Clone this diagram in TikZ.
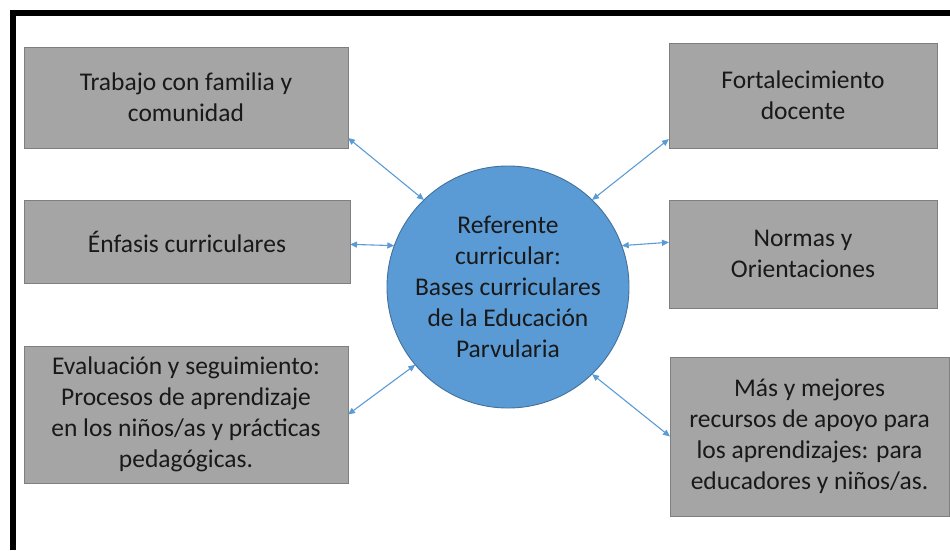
\documentclass[tikz,border=0pt]{standalone}
\usepackage{fontspec}
\setmainfont{Carlito}
\usetikzlibrary{arrows.meta}
\definecolor{azul}{HTML}{5B9BD5}
\definecolor{azulborde}{HTML}{41719C}
\definecolor{gris}{HTML}{A5A5A5}
\definecolor{grisborde}{HTML}{7F7F7F}
\begin{document}
\begin{tikzpicture}[x=1pt,y=-1pt,
    caja/.style={draw=grisborde,fill=gris,line width=0.8pt,align=center,
      font=\fontsize{25.5}{31}\selectfont,text=black!90,inner sep=0pt,outer sep=0pt},
    flecha/.style={azul,line width=1.1pt,{Triangle[length=7pt,width=6pt]}-{Triangle[length=7pt,width=6pt]}}]
  \useasboundingbox (0,0) rectangle (950,550);
  % marco
  \draw[line width=6pt] (13,550) -- (13,13) -- (950,13);
  % centro
  \node[circle,draw=azulborde,fill=azul,line width=0.9pt,minimum size=242pt,
    align=center,font=\fontsize{25.5}{31}\selectfont,text=black!90,inner sep=0pt,outer sep=0pt]
    (ref) at (508,287) {Referente\\curricular:\\Bases curriculares\\de la Educación\\Parvularia};
  % cajas
  \node[caja,minimum width=324pt,minimum height=101pt] (fam) at (186,97.5) {Trabajo con familia y\\comunidad};
  \node[caja,minimum width=268pt,minimum height=105pt] (doc) at (803,95.5) {Fortalecimiento\\docente};
  \node[caja,minimum width=326pt,minimum height=83pt] (enf) at (187,241.5) {Énfasis curriculares};
  \node[caja,minimum width=268pt,minimum height=108pt] (nor) at (803,254) {Normas y\\Orientaciones};
  \node[caja,minimum width=324pt,minimum height=137pt] (eva) at (186,414.5)
    {Evaluación y seguimiento:\\Procesos de aprendizaje\\en los niños/as y prácticas\\pedagógicas.};
  \node[caja,minimum width=279pt,minimum height=159pt] (mas) at (809.5,436.5)
    {Más y mejores\\recursos de apoyo para\\los aprendizajes: para\\educadores y niños/as.};
  % flechas
  \foreach \a/\b in {fam.-14/ref.134, doc.198/ref.46, enf.-1/ref.160,
                     nor.175/ref.20, eva.east/ref.220, mas.west/ref.314}
  { \draw[flecha] (\a) -- (\b); }
\end{tikzpicture}
\end{document}
